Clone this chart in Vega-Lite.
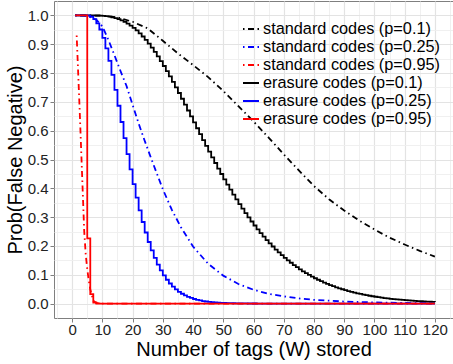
{
  "$schema": "https://vega.github.io/schema/vega-lite/v6.json",
  "width": 399,
  "height": 317,
  "autosize": {"type": "none"},
  "padding": {"left": 54, "top": 1, "right": 0, "bottom": 46},
  "background": "white",
  "config": {
    "font": "Liberation Sans",
    "view": {"stroke": "#7F7F7F", "strokeWidth": 1},
    "axis": {
      "domain": false,
      "tickColor": "#7F7F7F",
      "tickSize": 4,
      "labelFontSize": 15,
      "labelColor": "#222222",
      "labelPadding": 0,
      "titleFontSize": 20,
      "titleFontWeight": "normal",
      "titleColor": "#000000",
      "labelOverlap": false,
      "labelFlush": false
    },
    "legend": {
      "orient": "none",
      "legendX": 188,
      "legendY": 19,
      "padding": 0,
      "labelFontSize": 16.3,
      "labelColor": "#000000",
      "labelOffset": 3,
      "labelLimit": 400,
      "rowPadding": -1.8,
      "symbolSize": 256,
      "symbolStrokeWidth": 2,
      "symbolType": "stroke"
    }
  },
  "datasets": {
    "std_p010": [
      {"W": 1, "P": 1}, {"W": 5, "P": 1}, {"W": 10, "P": 0.999}, {"W": 15, "P": 0.993},
      {"W": 20, "P": 0.978}, {"W": 25, "P": 0.955}, {"W": 30, "P": 0.912}, {"W": 35, "P": 0.868},
      {"W": 40, "P": 0.828}, {"W": 45, "P": 0.786}, {"W": 50, "P": 0.738}, {"W": 55, "P": 0.685},
      {"W": 60, "P": 0.632}, {"W": 65, "P": 0.576}, {"W": 70, "P": 0.518}, {"W": 75, "P": 0.462},
      {"W": 80, "P": 0.408}, {"W": 85, "P": 0.362}, {"W": 90, "P": 0.323}, {"W": 95, "P": 0.288},
      {"W": 100, "P": 0.257}, {"W": 105, "P": 0.229}, {"W": 110, "P": 0.205}, {"W": 115, "P": 0.183},
      {"W": 120, "P": 0.163}
    ],
    "std_p025": [
      {"W": 1, "P": 1}, {"W": 5, "P": 0.998}, {"W": 8, "P": 0.985}, {"W": 10, "P": 0.962},
      {"W": 12, "P": 0.915}, {"W": 14, "P": 0.862}, {"W": 16, "P": 0.807}, {"W": 18, "P": 0.755},
      {"W": 20, "P": 0.69}, {"W": 22, "P": 0.625}, {"W": 24, "P": 0.565}, {"W": 26, "P": 0.508},
      {"W": 28, "P": 0.452}, {"W": 30, "P": 0.397}, {"W": 33, "P": 0.325}, {"W": 36, "P": 0.265},
      {"W": 40, "P": 0.198}, {"W": 45, "P": 0.138}, {"W": 50, "P": 0.097}, {"W": 55, "P": 0.068},
      {"W": 60, "P": 0.048}, {"W": 65, "P": 0.034}, {"W": 70, "P": 0.025}, {"W": 75, "P": 0.018},
      {"W": 80, "P": 0.013}, {"W": 90, "P": 0.007}, {"W": 100, "P": 0.004}, {"W": 110, "P": 0.002},
      {"W": 120, "P": 0.001}
    ],
    "std_p095": [
      {"W": 1.5, "P": 0.93}, {"W": 2, "P": 0.8}, {"W": 2.5, "P": 0.67}, {"W": 3, "P": 0.53},
      {"W": 3.5, "P": 0.39}, {"W": 4, "P": 0.25}, {"W": 4.5, "P": 0.17}, {"W": 5, "P": 0.12},
      {"W": 5.5, "P": 0.08}, {"W": 6, "P": 0.05}, {"W": 6.5, "P": 0.03}, {"W": 7, "P": 0.01},
      {"W": 8, "P": 0.002}, {"W": 10, "P": 0}, {"W": 120, "P": 0}
    ],
    "era_p010": [
      {"W": 1, "P": 1}, {"W": 2, "P": 1}, {"W": 3, "P": 1}, {"W": 4, "P": 1}, {"W": 5, "P": 1},
      {"W": 6, "P": 0.9999}, {"W": 7, "P": 0.9998}, {"W": 8, "P": 0.9996}, {"W": 9, "P": 0.9991}, {"W": 10, "P": 0.9984},
      {"W": 11, "P": 0.9973}, {"W": 12, "P": 0.9957}, {"W": 13, "P": 0.9935}, {"W": 14, "P": 0.9908}, {"W": 15, "P": 0.9873},
      {"W": 16, "P": 0.983}, {"W": 17, "P": 0.9779}, {"W": 18, "P": 0.9718}, {"W": 19, "P": 0.9648}, {"W": 20, "P": 0.9569},
      {"W": 21, "P": 0.9479}, {"W": 22, "P": 0.9379}, {"W": 23, "P": 0.9269}, {"W": 24, "P": 0.9149}, {"W": 25, "P": 0.902},
      {"W": 26, "P": 0.8882}, {"W": 27, "P": 0.8735}, {"W": 28, "P": 0.8579}, {"W": 29, "P": 0.8416}, {"W": 30, "P": 0.8245},
      {"W": 31, "P": 0.8068}, {"W": 32, "P": 0.7885}, {"W": 33, "P": 0.7697}, {"W": 34, "P": 0.7504}, {"W": 35, "P": 0.7308},
      {"W": 36, "P": 0.7108}, {"W": 37, "P": 0.6906}, {"W": 38, "P": 0.6701}, {"W": 39, "P": 0.6496}, {"W": 40, "P": 0.629},
      {"W": 41, "P": 0.6084}, {"W": 42, "P": 0.5879}, {"W": 43, "P": 0.5675}, {"W": 44, "P": 0.5472}, {"W": 45, "P": 0.5271},
      {"W": 46, "P": 0.5073}, {"W": 47, "P": 0.4878}, {"W": 48, "P": 0.4686}, {"W": 49, "P": 0.4497}, {"W": 50, "P": 0.4312},
      {"W": 51, "P": 0.4131}, {"W": 52, "P": 0.3955}, {"W": 53, "P": 0.3782}, {"W": 54, "P": 0.3614}, {"W": 55, "P": 0.3451},
      {"W": 56, "P": 0.3293}, {"W": 57, "P": 0.314}, {"W": 58, "P": 0.2992}, {"W": 59, "P": 0.2848}, {"W": 60, "P": 0.271},
      {"W": 61, "P": 0.2576}, {"W": 62, "P": 0.2447}, {"W": 63, "P": 0.2324}, {"W": 64, "P": 0.2205}, {"W": 65, "P": 0.2091},
      {"W": 66, "P": 0.1981}, {"W": 67, "P": 0.1876}, {"W": 68, "P": 0.1776}, {"W": 69, "P": 0.168}, {"W": 70, "P": 0.1588},
      {"W": 71, "P": 0.15}, {"W": 72, "P": 0.1417}, {"W": 73, "P": 0.1337}, {"W": 74, "P": 0.1262}, {"W": 75, "P": 0.1189},
      {"W": 76, "P": 0.1121}, {"W": 77, "P": 0.1056}, {"W": 78, "P": 0.0994}, {"W": 79, "P": 0.0935}, {"W": 80, "P": 0.088},
      {"W": 81, "P": 0.0827}, {"W": 82, "P": 0.0777}, {"W": 83, "P": 0.073}, {"W": 84, "P": 0.0685}, {"W": 85, "P": 0.0643},
      {"W": 86, "P": 0.0604}, {"W": 87, "P": 0.0566}, {"W": 88, "P": 0.053}, {"W": 89, "P": 0.0497}, {"W": 90, "P": 0.0466},
      {"W": 91, "P": 0.0436}, {"W": 92, "P": 0.0408}, {"W": 93, "P": 0.0382}, {"W": 94, "P": 0.0357}, {"W": 95, "P": 0.0334},
      {"W": 96, "P": 0.0312}, {"W": 97, "P": 0.0291}, {"W": 98, "P": 0.0272}, {"W": 99, "P": 0.0254}, {"W": 100, "P": 0.0237},
      {"W": 101, "P": 0.0221}, {"W": 102, "P": 0.0206}, {"W": 103, "P": 0.0192}, {"W": 104, "P": 0.0179}, {"W": 105, "P": 0.0167},
      {"W": 106, "P": 0.0156}, {"W": 107, "P": 0.0145}, {"W": 108, "P": 0.0135}, {"W": 109, "P": 0.0126}, {"W": 110, "P": 0.0117},
      {"W": 111, "P": 0.0109}, {"W": 112, "P": 0.0101}, {"W": 113, "P": 0.0094}, {"W": 114, "P": 0.0088}, {"W": 115, "P": 0.0081},
      {"W": 116, "P": 0.0076}, {"W": 117, "P": 0.007}, {"W": 118, "P": 0.0065}, {"W": 119, "P": 0.0061}, {"W": 120, "P": 0.0056}
    ],
    "era_p025": [
      {"W": 1, "P": 1}, {"W": 2, "P": 1}, {"W": 3, "P": 1}, {"W": 4, "P": 1}, {"W": 5, "P": 0.999},
      {"W": 6, "P": 0.9954}, {"W": 7, "P": 0.9871}, {"W": 8, "P": 0.9727}, {"W": 9, "P": 0.9511}, {"W": 10, "P": 0.9219},
      {"W": 11, "P": 0.8854}, {"W": 12, "P": 0.8424}, {"W": 13, "P": 0.794}, {"W": 14, "P": 0.7415}, {"W": 15, "P": 0.6865},
      {"W": 16, "P": 0.6302}, {"W": 17, "P": 0.5739}, {"W": 18, "P": 0.5187}, {"W": 19, "P": 0.4654}, {"W": 20, "P": 0.4148},
      {"W": 21, "P": 0.3674}, {"W": 22, "P": 0.3235}, {"W": 23, "P": 0.2832}, {"W": 24, "P": 0.2467}, {"W": 25, "P": 0.2137},
      {"W": 26, "P": 0.1844}, {"W": 27, "P": 0.1583}, {"W": 28, "P": 0.1354}, {"W": 29, "P": 0.1153}, {"W": 30, "P": 0.0979},
      {"W": 31, "P": 0.0828}, {"W": 32, "P": 0.0698}, {"W": 33, "P": 0.0586}, {"W": 34, "P": 0.0491}, {"W": 35, "P": 0.041},
      {"W": 36, "P": 0.0342}, {"W": 37, "P": 0.0284}, {"W": 38, "P": 0.0235}, {"W": 39, "P": 0.0195}, {"W": 40, "P": 0.016},
      {"W": 41, "P": 0.0132}, {"W": 42, "P": 0.0109}, {"W": 43, "P": 0.0089}, {"W": 44, "P": 0.0073}, {"W": 45, "P": 0.0059},
      {"W": 46, "P": 0.0049}, {"W": 47, "P": 0.004}, {"W": 48, "P": 0.0032}, {"W": 49, "P": 0.0026}, {"W": 50, "P": 0.0021},
      {"W": 51, "P": 0.0017}, {"W": 52, "P": 0.0014}, {"W": 53, "P": 0.0011}, {"W": 54, "P": 0.0009}, {"W": 55, "P": 0.0007},
      {"W": 56, "P": 0.0006}, {"W": 57, "P": 0.0005}, {"W": 58, "P": 0.0004}, {"W": 59, "P": 0.0003}, {"W": 60, "P": 0.0003},
      {"W": 61, "P": 0.0002}, {"W": 62, "P": 0.0002}, {"W": 63, "P": 0.0002}, {"W": 64, "P": 0.0001}, {"W": 65, "P": 0.0001},
      {"W": 66, "P": 0.0001}, {"W": 67, "P": 0.0001}, {"W": 68, "P": 0.0001}, {"W": 69, "P": 0}, {"W": 70, "P": 0},
      {"W": 80, "P": 0}, {"W": 90, "P": 0}, {"W": 100, "P": 0}, {"W": 110, "P": 0}, {"W": 120, "P": 0}
    ],
    "era_p095": [
      {"W": 1, "P": 1}, {"W": 2, "P": 1}, {"W": 3, "P": 1}, {"W": 4, "P": 1}, {"W": 5, "P": 0.2262},
      {"W": 6, "P": 0.0328}, {"W": 7, "P": 0.0038}, {"W": 8, "P": 0.0004}, {"W": 9, "P": 0}, {"W": 10, "P": 0},
      {"W": 20, "P": 0}, {"W": 40, "P": 0}, {"W": 60, "P": 0}, {"W": 80, "P": 0}, {"W": 100, "P": 0}, {"W": 120, "P": 0}
    ]
  },
  "encoding": {
    "x": {
      "field": "W",
      "type": "quantitative",
      "scale": {"domain": [-6, 126], "nice": false, "zero": false},
      "axis": {
        "title": "Number of tags (W) stored",
        "titlePadding": 2,
        "values": [-5, 0, 5, 10, 15, 20, 25, 30, 35, 40, 45, 50, 55, 60, 65, 70, 75, 80, 85, 90, 95, 100, 105, 110, 115, 120, 125],
        "labelExpr": "datum.value % 10 === 0 ? datum.label : ''",
        "tickOpacity": {"condition": {"test": "datum.value % 10 === 0", "value": 1}, "value": 0},
        "gridColor": {"condition": {"test": "datum.value % 10 === 0", "value": "#E3E3E3"}, "value": "#EEEEEE"},
        "gridWidth": {"condition": {"test": "datum.value % 10 === 0", "value": 1.2}, "value": 0.9}
      }
    },
    "y": {
      "field": "P",
      "type": "quantitative",
      "scale": {"domain": [-0.05, 1.05], "nice": false, "zero": false},
      "axis": {
        "title": "Prob(False Negative)",
        "titlePadding": 2,
        "labelPadding": 2,
        "values": [0, 0.05, 0.1, 0.15, 0.2, 0.25, 0.3, 0.35, 0.4, 0.45, 0.5, 0.55, 0.6, 0.65, 0.7, 0.75, 0.8, 0.85, 0.9, 0.95, 1],
        "labelExpr": "abs(datum.value * 10 - round(datum.value * 10)) < 0.001 ? format(datum.value, '.1f') : ''",
        "tickOpacity": {"condition": {"test": "abs(datum.value * 10 - round(datum.value * 10)) < 0.001", "value": 1}, "value": 0},
        "gridColor": {"condition": {"test": "abs(datum.value * 10 - round(datum.value * 10)) < 0.001", "value": "#E3E3E3"}, "value": "#EEEEEE"},
        "gridWidth": {"condition": {"test": "abs(datum.value * 10 - round(datum.value * 10)) < 0.001", "value": 1.2}, "value": 0.9}
      }
    }
  },
  "layer": [
    {
      "data": {"name": "std_p010"},
      "mark": {"type": "line", "strokeWidth": 1.8, "strokeCap": "butt"},
      "encoding": {
        "color": {
          "datum": "standard codes (p=0.1)",
          "type": "nominal",
          "scale": {
            "domain": ["standard codes (p=0.1)", "standard codes (p=0.25)", "standard codes (p=0.95)", "erasure codes (p=0.1)", "erasure codes (p=0.25)", "erasure codes (p=0.95)"],
            "range": ["#000000", "#0000FF", "#FF0000", "#000000", "#0000FF", "#FF0000"]
          },
          "legend": {"title": null}
        },
        "strokeDash": {
          "datum": "standard codes (p=0.1)",
          "type": "nominal",
          "scale": {
            "domain": ["standard codes (p=0.1)", "standard codes (p=0.25)", "standard codes (p=0.95)", "erasure codes (p=0.1)", "erasure codes (p=0.25)", "erasure codes (p=0.95)"],
            "range": [[1.5, 3.5, 6, 3.5], [1.5, 3.5, 6, 3.5], [1.5, 3.5, 6, 3.5], [1, 0], [1, 0], [1, 0]]
          },
          "legend": {"title": null}
        }
      }
    },
    {
      "data": {"name": "std_p025"},
      "mark": {"type": "line", "strokeWidth": 1.8, "strokeCap": "butt"},
      "encoding": {
        "color": {"datum": "standard codes (p=0.25)", "type": "nominal"},
        "strokeDash": {"datum": "standard codes (p=0.25)", "type": "nominal"}
      }
    },
    {
      "data": {"name": "std_p095"},
      "mark": {"type": "line", "strokeWidth": 1.8, "strokeCap": "butt"},
      "encoding": {
        "color": {"datum": "standard codes (p=0.95)", "type": "nominal"},
        "strokeDash": {"datum": "standard codes (p=0.95)", "type": "nominal"}
      }
    },
    {
      "data": {"name": "era_p010"},
      "mark": {"type": "line", "strokeWidth": 1.8, "interpolate": "step-after"},
      "encoding": {
        "color": {"datum": "erasure codes (p=0.1)", "type": "nominal"},
        "strokeDash": {"datum": "erasure codes (p=0.1)", "type": "nominal"}
      }
    },
    {
      "data": {"name": "era_p025"},
      "mark": {"type": "line", "strokeWidth": 1.8, "interpolate": "step-after"},
      "encoding": {
        "color": {"datum": "erasure codes (p=0.25)", "type": "nominal"},
        "strokeDash": {"datum": "erasure codes (p=0.25)", "type": "nominal"}
      }
    },
    {
      "data": {"name": "era_p095"},
      "mark": {"type": "line", "strokeWidth": 1.8, "interpolate": "step-after"},
      "encoding": {
        "color": {"datum": "erasure codes (p=0.95)", "type": "nominal"},
        "strokeDash": {"datum": "erasure codes (p=0.95)", "type": "nominal"}
      }
    }
  ]
}
